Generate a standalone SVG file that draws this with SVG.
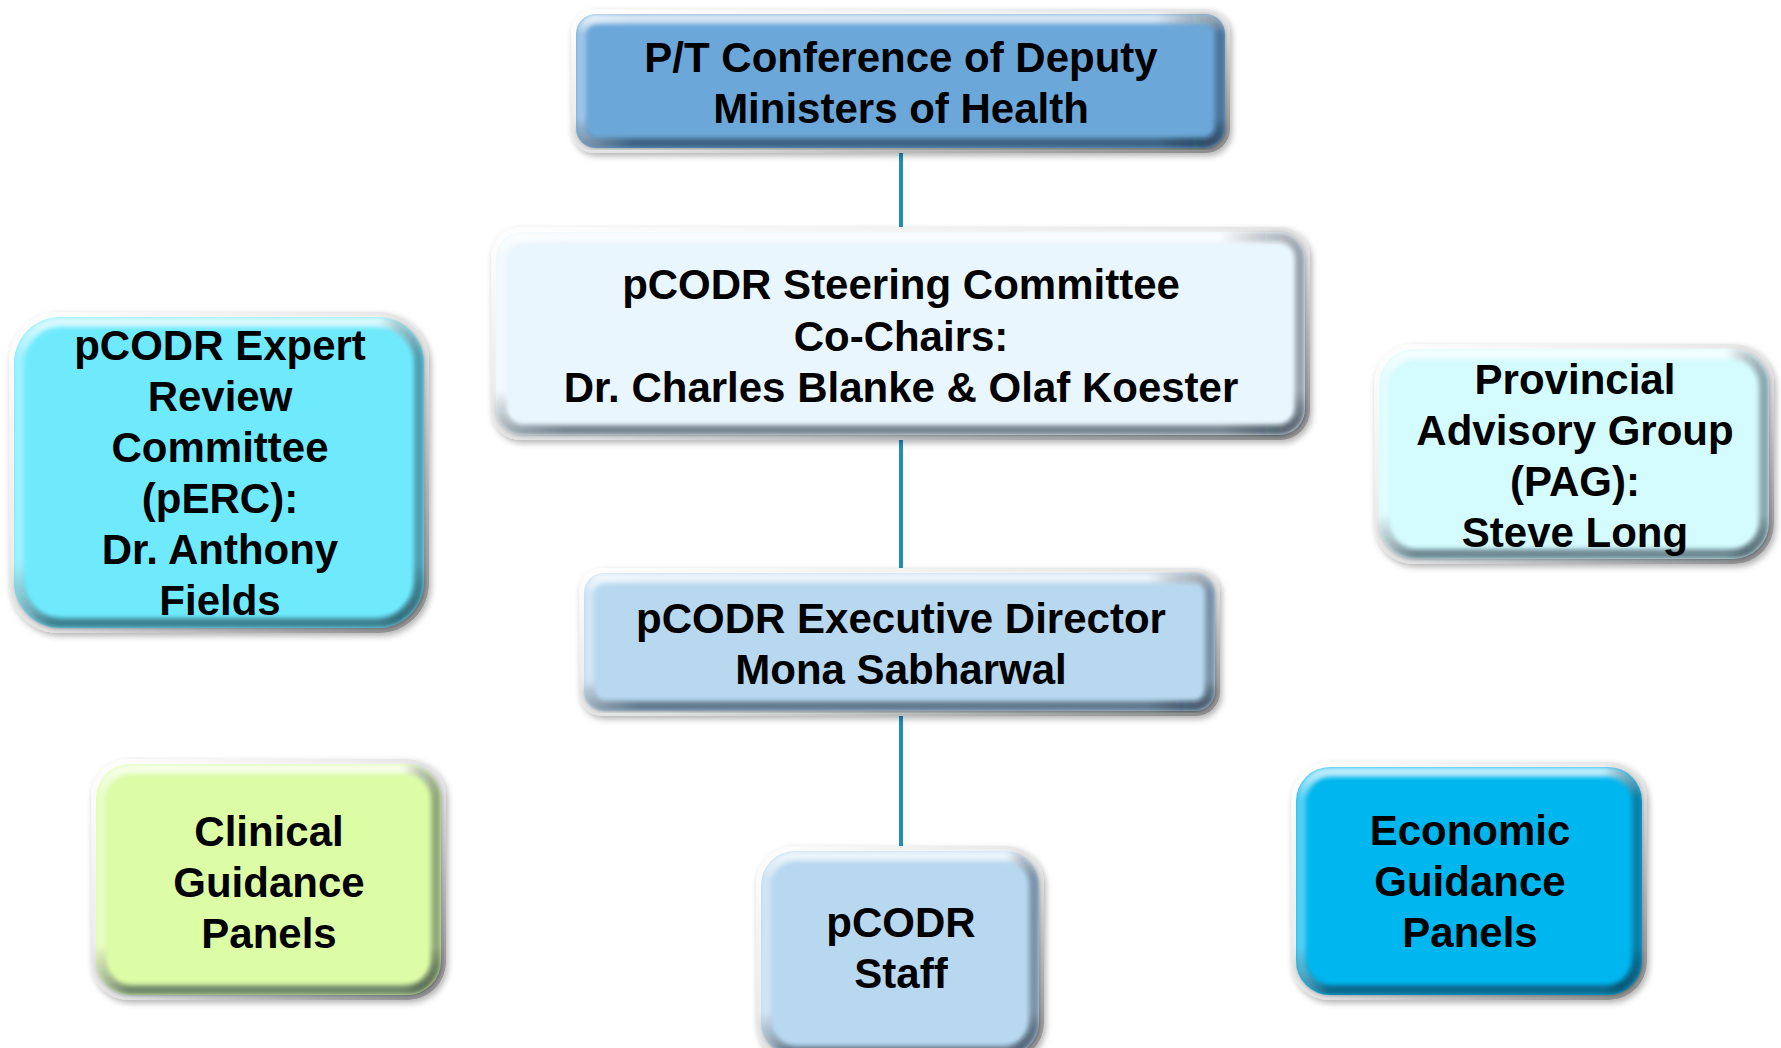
<svg xmlns="http://www.w3.org/2000/svg" width="1781" height="1048" viewBox="0 0 1781 1048">
<defs>
<linearGradient id="rim" x1="0" y1="0" x2="1" y2="1">
<stop offset="0" stop-color="#ffffff"/>
<stop offset="0.55" stop-color="#e2e2e2"/>
<stop offset="1" stop-color="#8a8a8a"/>
</linearGradient>
<linearGradient id="bevV" x1="0" y1="0" x2="0" y2="1">
<stop offset="0" stop-color="#ffffff" stop-opacity="0.75"/>
<stop offset="0.12" stop-color="#ffffff" stop-opacity="0"/>
<stop offset="0.8" stop-color="#000000" stop-opacity="0"/>
<stop offset="1" stop-color="#1a2a3a" stop-opacity="0.55"/>
</linearGradient>
<linearGradient id="bevH" x1="0" y1="0" x2="1" y2="0">
<stop offset="0" stop-color="#ffffff" stop-opacity="0.35"/>
<stop offset="0.08" stop-color="#ffffff" stop-opacity="0"/>
<stop offset="0.9" stop-color="#000000" stop-opacity="0"/>
<stop offset="1" stop-color="#1a2a3a" stop-opacity="0.4"/>
</linearGradient>
<filter id="shadow" x="-10%" y="-10%" width="120%" height="130%">
<feDropShadow dx="2" dy="3" stdDeviation="3" flood-color="#000" flood-opacity="0.3"/>
</filter>
<filter id="soft" x="-5%" y="-5%" width="110%" height="110%">
<feGaussianBlur stdDeviation="2"/>
</filter>
</defs>
<style>
.rim{fill:url(#rim);filter:url(#shadow)}
.bv{fill:none;stroke:url(#bevV);stroke-width:10;filter:url(#soft)}
.bh{fill:none;stroke:url(#bevH);stroke-width:10;filter:url(#soft)}
.t{font-family:"Liberation Sans",Arial,sans-serif;font-weight:bold;font-size:42px;fill:#000;text-anchor:middle}
.conn{stroke:#1f8fba;stroke-width:4;fill:none}
</style>
<rect width="1781" height="1048" fill="#ffffff"/>

<g id="connectors">
<line class="conn" x1="901" y1="150" x2="901" y2="230"/>
<line class="conn" x1="901" y1="437" x2="901" y2="571"/>
<line class="conn" x1="901" y1="713" x2="901" y2="849"/>
</g>

<g id="node-deputy-ministers">
<rect class="rim" x="571" y="9" width="659" height="144" rx="24"/>
<rect x="576" y="14" width="649" height="134" rx="20" fill="#6BA7D9"/>
<rect class="bv" x="581" y="19" width="639" height="124" rx="16"/>
<rect class="bh" x="581" y="19" width="639" height="124" rx="16"/>
<text class="t" x="901" y="72">P/T Conference of Deputy</text>
<text class="t" x="901" y="123">Ministers of Health</text>
</g>

<g id="node-steering">
<rect class="rim" x="491" y="227" width="819" height="213" rx="30"/>
<rect x="496" y="232" width="809" height="203" rx="26" fill="#EAF6FD"/>
<rect class="bv" x="501" y="237" width="799" height="193" rx="22"/>
<rect class="bh" x="501" y="237" width="799" height="193" rx="22"/>
<text class="t" x="901" y="299">pCODR Steering Committee</text>
<text class="t" x="901" y="351">Co-Chairs:</text>
<text class="t" x="901" y="402">Dr. Charles Blanke &amp; Olaf Koester</text>
</g>

<g id="node-perc">
<rect class="rim" x="9" y="312" width="420" height="321" rx="50"/>
<rect x="14" y="317" width="410" height="311" rx="46" fill="#6FEAFD"/>
<rect class="bv" x="19" y="322" width="400" height="301" rx="42"/>
<rect class="bh" x="19" y="322" width="400" height="301" rx="42"/>
<text class="t" x="220" y="360">pCODR Expert</text>
<text class="t" x="220" y="411">Review</text>
<text class="t" x="220" y="462">Committee</text>
<text class="t" x="220" y="513">(pERC):</text>
<text class="t" x="220" y="564">Dr. Anthony</text>
<text class="t" x="220" y="615">Fields</text>
</g>

<g id="node-pag">
<rect class="rim" x="1374" y="344" width="400" height="220" rx="40"/>
<rect x="1379" y="349" width="390" height="210" rx="36" fill="#D4FBFE"/>
<rect class="bv" x="1384" y="354" width="380" height="200" rx="32"/>
<rect class="bh" x="1384" y="354" width="380" height="200" rx="32"/>
<text class="t" x="1575" y="394">Provincial</text>
<text class="t" x="1575" y="445">Advisory Group</text>
<text class="t" x="1575" y="496">(PAG):</text>
<text class="t" x="1575" y="547">Steve Long</text>
</g>

<g id="node-executive-director">
<rect class="rim" x="579" y="568" width="641" height="148" rx="24"/>
<rect x="584" y="573" width="631" height="138" rx="20" fill="#B8D8F0"/>
<rect class="bv" x="589" y="578" width="621" height="128" rx="16"/>
<rect class="bh" x="589" y="578" width="621" height="128" rx="16"/>
<text class="t" x="901" y="633">pCODR Executive Director</text>
<text class="t" x="901" y="684">Mona Sabharwal</text>
</g>

<g id="node-clinical">
<rect class="rim" x="91" y="759" width="355" height="241" rx="38"/>
<rect x="96" y="764" width="345" height="231" rx="34" fill="#DCFCA6"/>
<rect class="bv" x="101" y="769" width="335" height="221" rx="30"/>
<rect class="bh" x="101" y="769" width="335" height="221" rx="30"/>
<text class="t" x="269" y="846">Clinical</text>
<text class="t" x="269" y="897">Guidance</text>
<text class="t" x="269" y="948">Panels</text>
</g>

<g id="node-staff">
<rect class="rim" x="756" y="846" width="288" height="215" rx="38"/>
<rect x="761" y="851" width="278" height="205" rx="34" fill="#B8D8F0"/>
<rect class="bv" x="766" y="856" width="268" height="195" rx="30"/>
<rect class="bh" x="766" y="856" width="268" height="195" rx="30"/>
<text class="t" x="901" y="937">pCODR</text>
<text class="t" x="901" y="988">Staff</text>
</g>

<g id="node-economic">
<rect class="rim" x="1291" y="762" width="356" height="238" rx="38"/>
<rect x="1296" y="767" width="346" height="228" rx="34" fill="#00B6EE"/>
<rect class="bv" x="1301" y="772" width="336" height="218" rx="30"/>
<rect class="bh" x="1301" y="772" width="336" height="218" rx="30"/>
<text class="t" x="1470" y="845">Economic</text>
<text class="t" x="1470" y="896">Guidance</text>
<text class="t" x="1470" y="947">Panels</text>
</g>
</svg>
